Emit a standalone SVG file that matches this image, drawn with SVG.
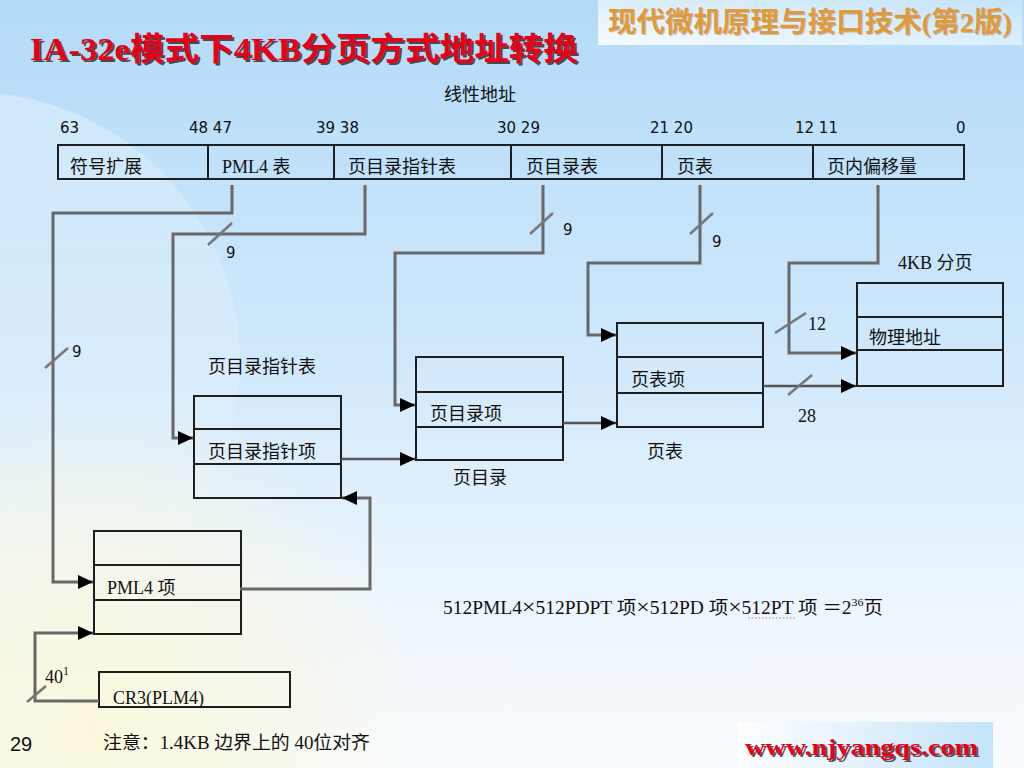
<svg xmlns="http://www.w3.org/2000/svg" width="1024" height="768" viewBox="0 0 1024 768">
<defs>
<linearGradient id="bg" x1="0" y1="0" x2="0" y2="1">
<stop offset="0" stop-color="#b3dbf8"/>
<stop offset="0.45" stop-color="#cfe8fb"/>
<stop offset="0.8" stop-color="#eef6fd"/>
<stop offset="1" stop-color="#f8fbfe"/>
</linearGradient>
<radialGradient id="yel" cx="90" cy="730" r="340" gradientUnits="userSpaceOnUse">
<stop offset="0" stop-color="#fbf8dc" stop-opacity="1"/>
<stop offset="0.6" stop-color="#f9f8e2" stop-opacity="0.55"/>
<stop offset="1" stop-color="#f9f8e2" stop-opacity="0"/>
</radialGradient>
<linearGradient id="disc" x1="0" y1="0" x2="0" y2="1">
<stop offset="0" stop-color="#ffffff" stop-opacity="0.3"/>
<stop offset="1" stop-color="#ffffff" stop-opacity="0"/>
</linearGradient>
<linearGradient id="hdr" x1="0" y1="1" x2="1" y2="0">
<stop offset="0" stop-color="#f6fbfe"/>
<stop offset="1" stop-color="#c3e3f9"/>
</linearGradient>
<linearGradient id="ftr" x1="0" y1="0" x2="1" y2="0">
<stop offset="0" stop-color="#ffffff"/>
<stop offset="1" stop-color="#c4e3f8"/>
</linearGradient>
<marker id="ah" markerUnits="userSpaceOnUse" markerWidth="16" markerHeight="14" refX="15" refY="7" orient="auto">
<path d="M0,0 L15,7 L0,14 z" fill="#000"/>
</marker>
</defs>
<style>
.box{fill:none;stroke:#1e1e1e;stroke-width:2}
.row{stroke:#1e1e1e;stroke-width:2}
.con{fill:none;stroke:#686868;stroke-width:3}
.con2{fill:none;stroke:#555;stroke-width:2.5}
.sl{stroke:#777;stroke-width:2.5}
.cj{font-family:"Noto Sans CJK SC","Liberation Sans",sans-serif;font-size:18px;fill:#111}
.mx{font-family:"Liberation Serif","Noto Sans CJK SC",serif;font-size:18px;fill:#111}
.num{font-family:"DejaVu Sans","Liberation Sans",sans-serif;font-size:15px;fill:#111}
</style>

<rect x="0" y="0" width="1024" height="768" fill="url(#bg)"/>
<circle cx="-30" cy="362" r="270" fill="url(#disc)"/>
<rect x="0" y="380" width="440" height="388" fill="url(#yel)"/>

<g id="header">
<rect x="598" y="0" width="424" height="45" fill="url(#hdr)"/>
<text x="609" y="33" font-family="'Liberation Serif','Noto Sans CJK SC',serif" font-weight="bold" font-size="28" fill="#8a5a20" opacity="0.35" textLength="404" lengthAdjust="spacingAndGlyphs">现代微机原理与接口技术(第2版)</text>
<text x="608" y="32" font-family="'Liberation Serif','Noto Sans CJK SC',serif" font-weight="bold" font-size="28" fill="#e09a3c" textLength="404" lengthAdjust="spacingAndGlyphs">现代微机原理与接口技术(第2版)</text>
</g>

<g id="title">
<text x="32" y="62" font-family="'Liberation Serif','Noto Sans CJK SC',serif" font-weight="bold" font-size="32" fill="#4a4a4a" textLength="548" lengthAdjust="spacingAndGlyphs">IA-32e模式下4KB分页方式地址转换</text>
<text x="30" y="60" font-family="'Liberation Serif','Noto Sans CJK SC',serif" font-weight="bold" font-size="32" fill="#e8001a" textLength="548" lengthAdjust="spacingAndGlyphs">IA-32e模式下4KB分页方式地址转换</text>
</g>

<g id="linear-address">
<text class="cj" x="444" y="101">线性地址</text>
<text class="num" x="60" y="133">63</text>
<text class="num" x="189" y="133">48 47</text>
<text class="num" x="316" y="133">39 38</text>
<text class="num" x="497" y="133">30 29</text>
<text class="num" x="650" y="133">21 20</text>
<text class="num" x="795" y="133">12 11</text>
<text class="num" x="956" y="133">0</text>
<rect class="box" x="58" y="145" width="906" height="34"/>
<line class="row" x1="208" y1="145" x2="208" y2="179"/>
<line class="row" x1="334" y1="145" x2="334" y2="179"/>
<line class="row" x1="511" y1="145" x2="511" y2="179"/>
<line class="row" x1="662" y1="145" x2="662" y2="179"/>
<line class="row" x1="813" y1="145" x2="813" y2="179"/>
<text class="cj" x="70" y="173">符号扩展</text>
<text class="mx" x="222" y="173">PML4 表</text>
<text class="cj" x="348" y="173">页目录指针表</text>
<text class="cj" x="526" y="173">页目录表</text>
<text class="cj" x="677" y="173">页表</text>
<text class="cj" x="827" y="173">页内偏移量</text>
</g>

<g id="pml4-table">
<rect class="box" x="94" y="531" width="147" height="103"/>
<line class="row" x1="94" y1="565" x2="241" y2="565"/>
<line class="row" x1="94" y1="600" x2="241" y2="600"/>
<text class="mx" x="107" y="594">PML4 项</text>
</g>

<g id="pdpt-table">
<text class="cj" x="208" y="373">页目录指针表</text>
<rect class="box" x="194" y="396" width="147" height="102"/>
<line class="row" x1="194" y1="429" x2="341" y2="429"/>
<line class="row" x1="194" y1="464" x2="341" y2="464"/>
<text class="cj" x="208" y="458">页目录指针项</text>
</g>

<g id="pd-table">
<rect class="box" x="416" y="357" width="147" height="103"/>
<line class="row" x1="416" y1="392" x2="563" y2="392"/>
<line class="row" x1="416" y1="427" x2="563" y2="427"/>
<text class="cj" x="430" y="420">页目录项</text>
<text class="cj" x="453" y="484">页目录</text>
</g>

<g id="pt-table">
<rect class="box" x="617" y="323" width="146" height="104"/>
<line class="row" x1="617" y1="357" x2="763" y2="357"/>
<line class="row" x1="617" y1="393" x2="763" y2="393"/>
<text class="cj" x="631" y="386">页表项</text>
<text class="cj" x="647" y="458">页表</text>
</g>

<g id="page-4kb">
<text class="mx" x="898" y="269">4KB 分页</text>
<rect class="box" x="857" y="283" width="146" height="103"/>
<line class="row" x1="857" y1="317" x2="1003" y2="317"/>
<line class="row" x1="857" y1="350" x2="1003" y2="350"/>
<text class="cj" x="869" y="344">物理地址</text>
</g>

<g id="cr3">
<rect class="box" x="99" y="672" width="191" height="35"/>
<text class="mx" x="113" y="704">CR3(PLM4)</text>
</g>

<g id="connectors">
<path class="con" d="M232,185 V213 H53 V582 H93" marker-end="url(#ah)"/>
<path class="con" d="M365,185 V234 H173 V438 H193" marker-end="url(#ah)"/>
<path class="con" d="M543,185 V253 H395 V405 H415" marker-end="url(#ah)"/>
<path class="con" d="M700,185 V263 H588 V335 H616" marker-end="url(#ah)"/>
<path class="con" d="M878,185 V263 H789 V353 H856" marker-end="url(#ah)"/>
<path class="con2" d="M341,459 H415" marker-end="url(#ah)"/>
<path class="con2" d="M563,423 H616" marker-end="url(#ah)"/>
<path class="con2" d="M763,386 H856" marker-end="url(#ah)"/>
<path class="con" d="M240,589 H370 V498 H342" marker-end="url(#ah)"/>
<path class="con" d="M99,701 H35 V633 H93" marker-end="url(#ah)"/>
<line class="sl" x1="45" y1="368" x2="68" y2="348"/>
<line class="sl" x1="208" y1="245" x2="232" y2="223"/>
<line class="sl" x1="530" y1="234" x2="553" y2="213"/>
<line class="sl" x1="690" y1="234" x2="713" y2="213"/>
<line class="sl" x1="775" y1="333" x2="806" y2="313"/>
<line class="sl" x1="788" y1="395" x2="812" y2="375"/>
<line class="sl" x1="27" y1="702" x2="46" y2="686"/>
<text class="num" x="72" y="357">9</text>
<text class="num" x="226" y="258">9</text>
<text class="num" x="563" y="235">9</text>
<text class="num" x="712" y="247">9</text>
<text class="mx" x="808" y="330">12</text>
<text class="mx" x="798" y="422">28</text>
<text class="mx" x="45" y="683">40<tspan font-size="12" dy="-8">1</tspan></text>
</g>

<g id="formula">
<text class="mx" x="443" y="614" font-size="19" textLength="440" lengthAdjust="spacingAndGlyphs">512PML4<tspan font-size="22">×</tspan>512PDPT 项<tspan font-size="22">×</tspan>512PD 项<tspan font-size="22">×</tspan>512PT 项 ＝2<tspan font-size="11" dy="-8">36</tspan><tspan dy="8">页</tspan></text>
<line x1="748" y1="618" x2="796" y2="618" stroke="#c07a9a" stroke-width="1.2" stroke-dasharray="1.5,2"/>
</g>

<g id="footer">
<text x="10" y="751" font-family="'Liberation Sans',sans-serif" font-size="20" fill="#111">29</text>
<text class="mx" x="103" y="749" font-size="19" textLength="267" lengthAdjust="spacingAndGlyphs">注意：1.4KB 边界上的 40位对齐</text>
<rect x="737" y="722" width="256" height="46" fill="url(#ftr)"/>
<text x="747" y="757" font-family="'Liberation Serif',serif" font-weight="bold" font-size="23" fill="#555" textLength="233" lengthAdjust="spacingAndGlyphs">www.njyangqs.com</text>
<text x="745" y="755" font-family="'Liberation Serif',serif" font-weight="bold" font-size="23" fill="#e8001a" textLength="233" lengthAdjust="spacingAndGlyphs">www.njyangqs.com</text>
</g>
</svg>
